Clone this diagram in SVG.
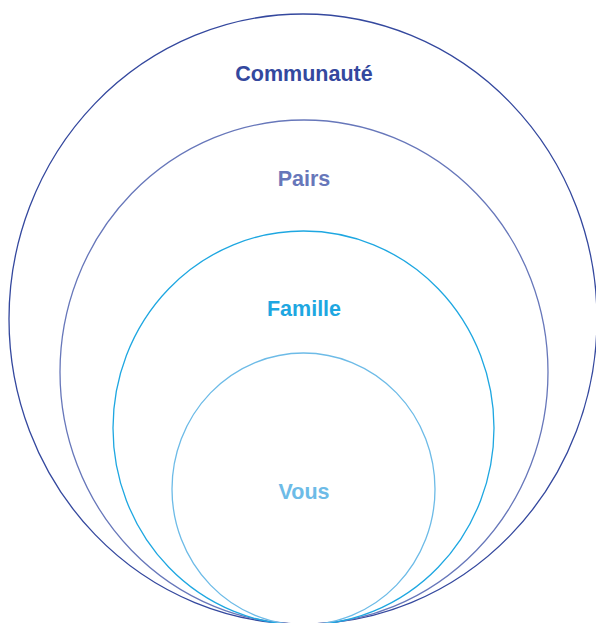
<svg xmlns="http://www.w3.org/2000/svg" width="596" height="623" viewBox="0 0 596 623">
<style>
.ring{fill:none;stroke-width:1.3}
.lbl{font-family:"Liberation Sans",Arial,sans-serif;font-weight:bold;font-size:21.5px;text-anchor:middle}
</style>
<rect width="596" height="623" fill="#fff"/>
<g id="communaute">
<ellipse class="ring" cx="303" cy="319" rx="294" ry="305" stroke="#34489e"/>
<text class="lbl" x="304" y="81" fill="#34489e">Communauté</text>
</g>
<g id="pairs">
<ellipse class="ring" cx="304" cy="372" rx="244" ry="252" stroke="#6777ba"/>
<text class="lbl" x="304" y="186" fill="#6777ba">Pairs</text>
</g>
<g id="famille">
<ellipse class="ring" cx="303.5" cy="428" rx="190.5" ry="197" stroke="#1ea7e1"/>
<text class="lbl" x="304" y="316" fill="#1ea7e1">Famille</text>
</g>
<g id="vous">
<ellipse class="ring" cx="303.5" cy="489" rx="131.5" ry="136" stroke="#6dbbe7"/>
<text class="lbl" x="304" y="499" fill="#6dbbe7">Vous</text>
</g>
</svg>
